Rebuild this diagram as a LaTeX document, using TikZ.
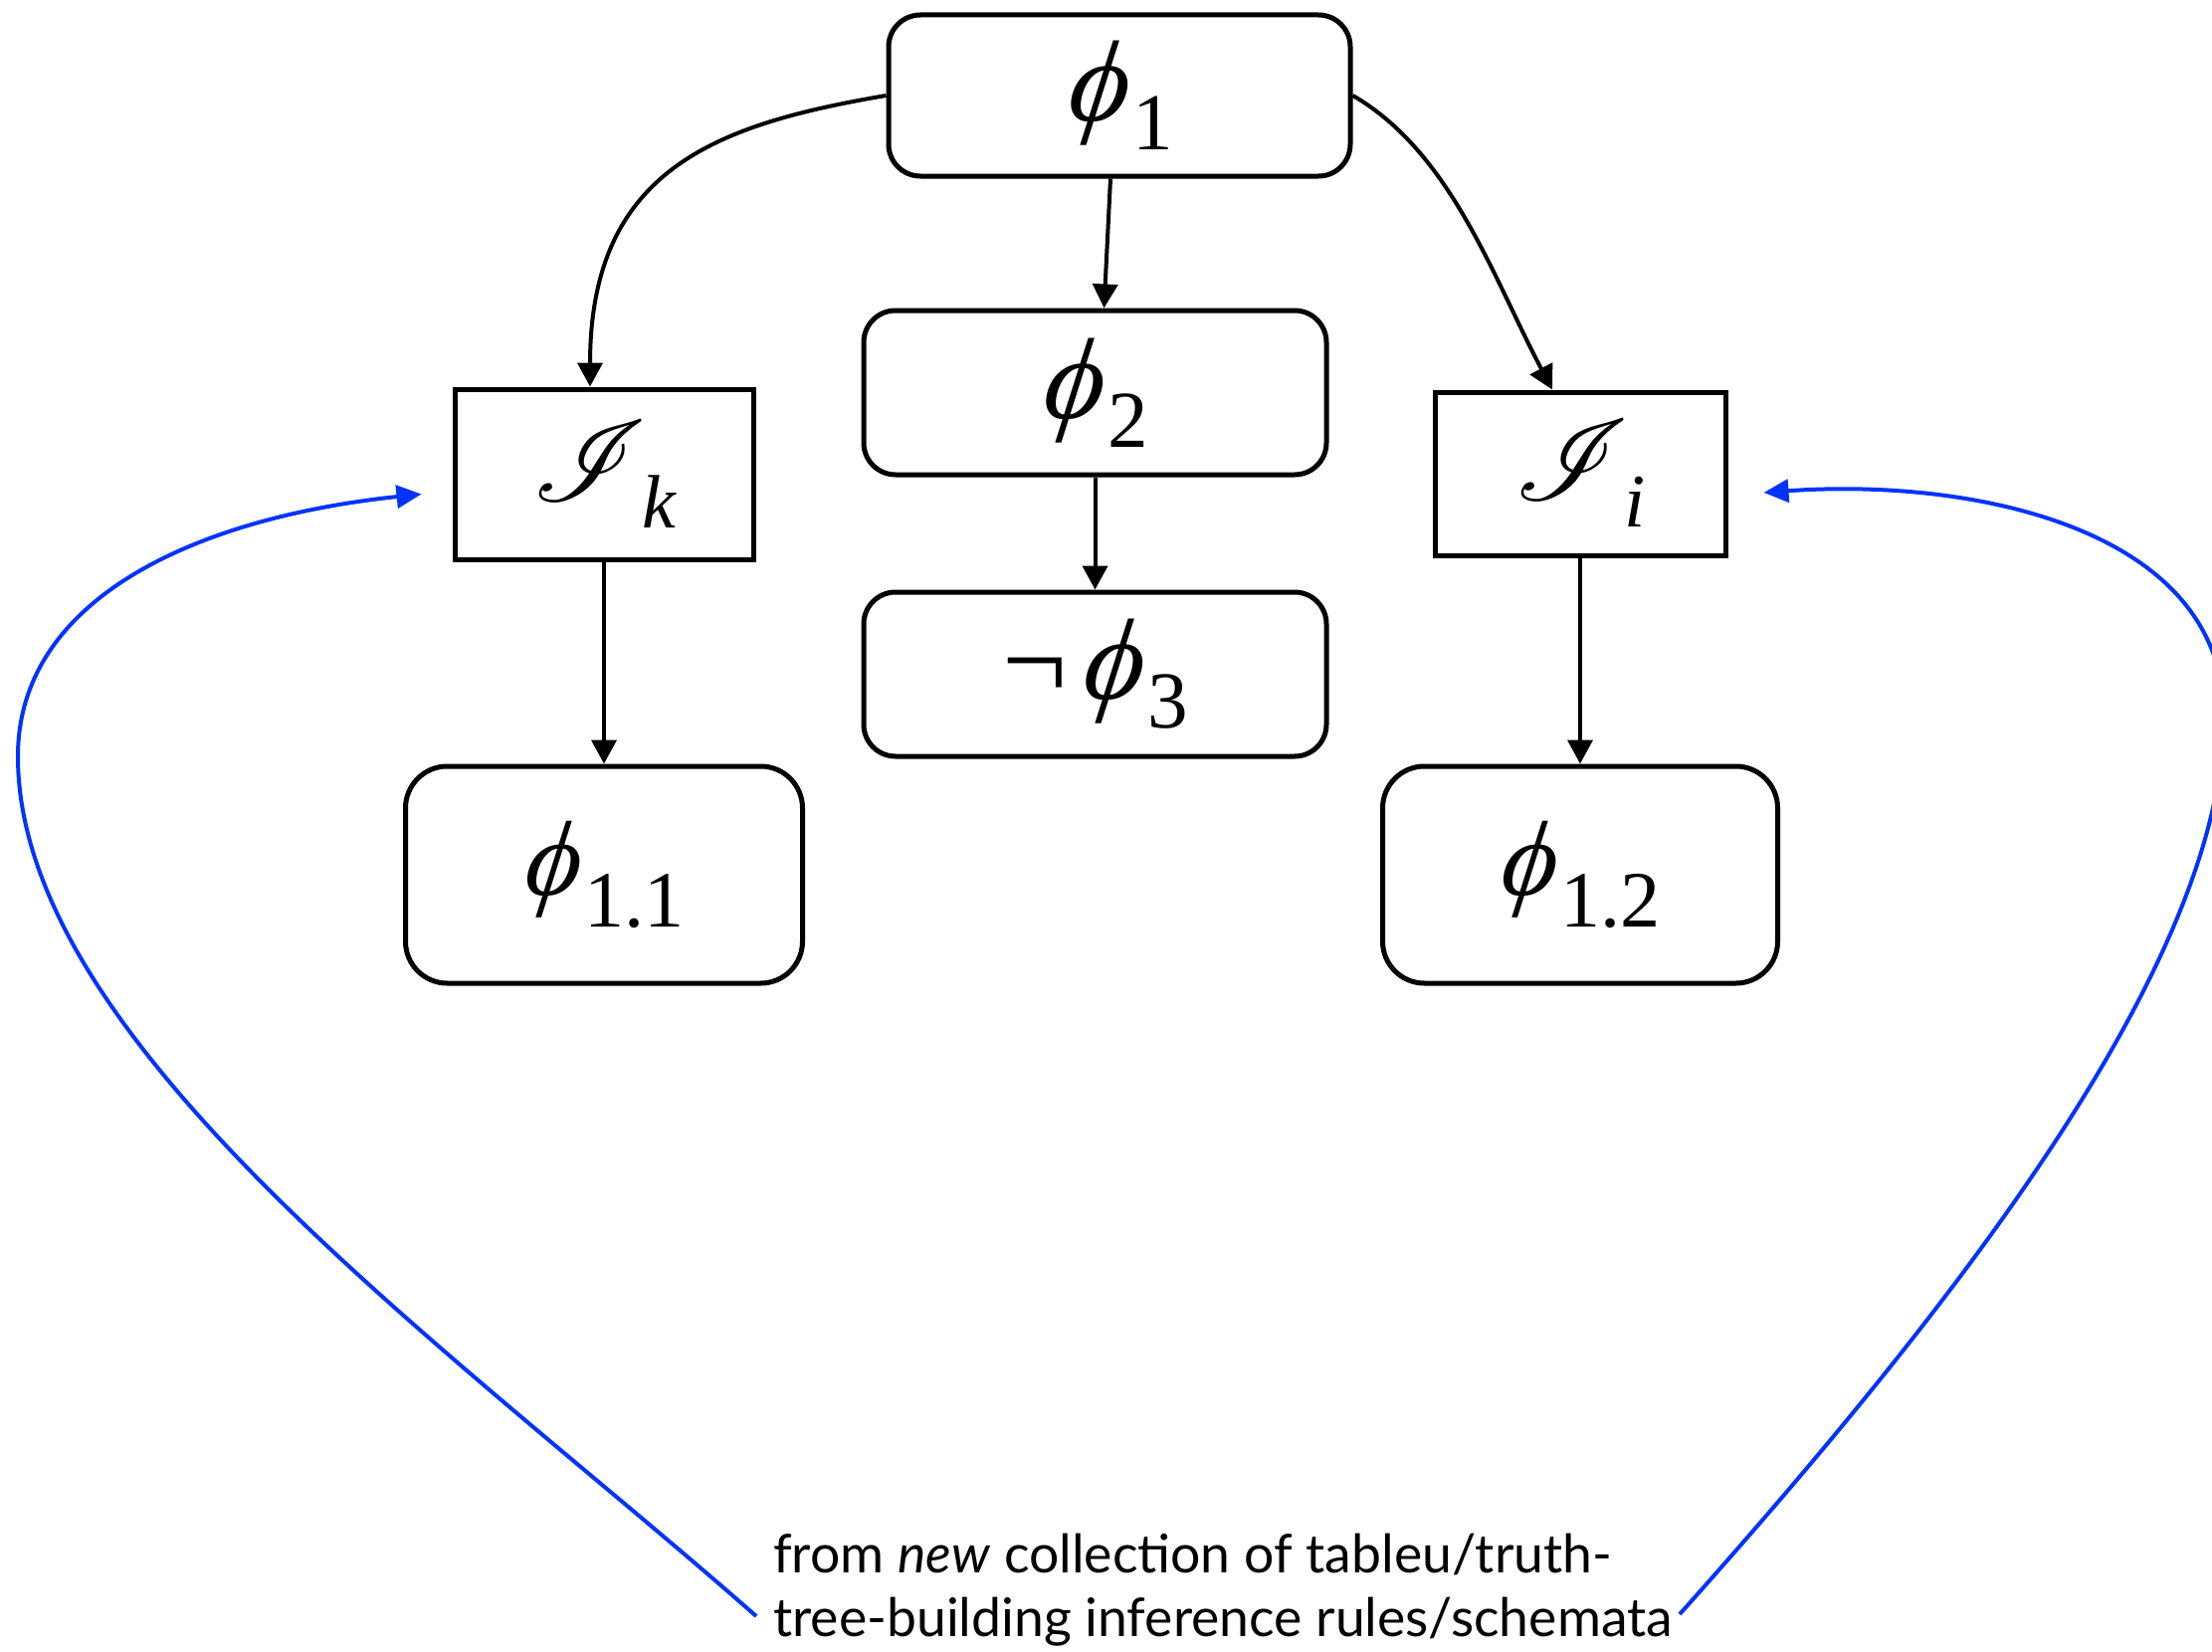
\documentclass[tikz,border=0pt]{standalone}
\usepackage{graphicx}
\usepackage{fontspec}
\setmainfont{Liberation Serif}
\newfontfamily\gill{Lato}
\newfontfamily\phifont[ItalicFeatures={FakeSlant=0.14}]{Liberation Serif}
\usepackage{mathrsfs}
\usetikzlibrary{arrows.meta,calc}
\definecolor{linkblue}{RGB}{0,51,255}
% phi with a lowered upright subscript: size, drop, text
\newcommand{\phisub}[3]{{\phifont\itshape ϕ}\kern0.6pt\raisebox{-#2pt}{\fontsize{#1}{#1}\selectfont #3}}
% script letter with italic subscript
\newcommand{\scrsub}[1]{\scalebox{1.15}{$\mathscr{I}$}\kern-0.5pt\raisebox{-2.7pt}{\fontsize{7.6}{8}\selectfont\itshape #1}}
\tikzset{
  rbox/.style={draw=black, line width=5pt, rounded corners=32pt, inner sep=0pt, align=center},
  rboxb/.style={rbox, rounded corners=42pt},
  sbox/.style={draw=black, line width=5pt, inner sep=0pt, align=center},
  conn/.style={line width=4pt, -{Triangle[length=24pt,width=25pt]}},
  blueconn/.style={draw=linkblue, line width=4pt, -{Triangle[length=25pt,width=23pt]}, color=linkblue},
}
\begin{document}
\begin{tikzpicture}[x=1pt,y=-1pt]
\clip (0,0) rectangle (2223,1659);
\fill[white] (0,0) rectangle (2223,1659);

\node[rbox, minimum width=464pt, minimum height=162pt] (p1) at (1125,96) {\scalebox{11.6}{\phisub{7}{2.5}{1}}};
\node[rbox, minimum width=465pt, minimum height=165pt] (p2) at (1100.5,394.5) {\scalebox{11.6}{\phisub{7}{2.5}{2}}};
\node[rbox, minimum width=465pt, minimum height=165pt] (p3) at (1100.5,677.5) {\scalebox{11.6}{¬\kern1.2pt\phisub{7}{2.5}{3}}};
\node[sbox, minimum width=300pt, minimum height=171pt] (Ik) at (607,476.5) {\scalebox{10}{\scrsub{k}}};
\node[sbox, minimum width=292pt, minimum height=164pt] (Ii) at (1588,476) {\scalebox{10}{\scrsub{i}}};
\node[rboxb, minimum width=399pt, minimum height=218pt] (p11) at (607,879) {\scalebox{10.7}{\phisub{7.5}{3}{1.1}}};
\node[rboxb, minimum width=397pt, minimum height=218pt] (p12) at (1588,879) {\scalebox{10.7}{\phisub{7.5}{3}{1.2}}};

\node[anchor=north west, inner sep=0pt, align=left, font=\gill\fontsize{53.5}{64}\selectfont] (txt) at (777,1541)
  {from \textit{new} collection of tableu/truth-\\tree-building inference rules/schemata};

% black connectors
\draw[conn] (p1.west) .. controls (720,125) and (593,170) .. ([xshift=-14pt]Ik.north);
\draw[conn] (p1.east) .. controls (1458,153) and (1500,278) .. ([xshift=-28pt]Ii.north);
\draw[conn] ([xshift=-9pt]p1.south) -- ([xshift=9pt]p2.north);
\draw[conn] (p2.south) -- (p3.north);
\draw[conn] (Ik.south) -- (p11.north);
\draw[conn] (Ii.south) -- (p12.north);

% blue connectors
\coordinate (bl) at (760,1624);
\coordinate (br) at (1688,1622);
\coordinate (tl) at ([xshift=-31pt,yshift=-20pt]Ik.west);
\coordinate (tr) at ([xshift=36pt,yshift=-19pt]Ii.east);
\draw[blueconn] (bl) .. controls (460,1360) and (18,1050) .. (18,760)
   .. controls (18,600) and (200,520) .. (tl);
\draw[blueconn] (br) .. controls (1956,1322) and (2235,970) .. (2235,720)
   .. controls (2235,530) and (1980,480) .. (tr);
\end{tikzpicture}
\end{document}
